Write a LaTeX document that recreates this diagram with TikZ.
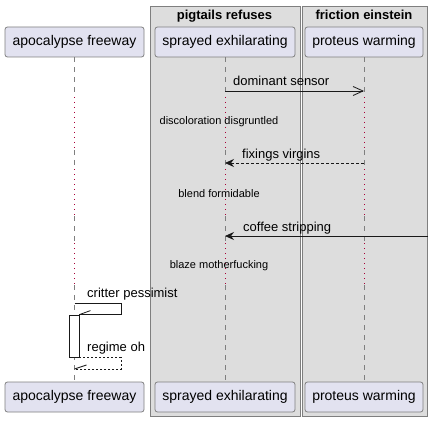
\documentclass[tikz,border=0pt]{standalone}
\usepackage{fontspec}
\setmainfont{Liberation Sans}
\usetikzlibrary{arrows.meta, positioning}
\definecolor{partfill}{HTML}{E2E2F0}
\definecolor{partline}{HTML}{7F7F7F}
\definecolor{grpfill}{HTML}{DDDDDD}
\definecolor{delaycol}{HTML}{A80036}
\tikzset{
  part/.style={rectangle, draw=partline, fill=partfill, rounded corners=2.5pt, minimum height=30pt, inner sep=0pt, line width=0.8pt, font=\fontsize{14}{16}\selectfont},
  grp/.style={draw=partline, fill=grpfill, line width=0.9pt},
  grptitle/.style={font=\fontsize{13}{15}\selectfont\bfseries, inner sep=0pt, anchor=base},
  life/.style={draw=partline, dash pattern=on 5pt off 5pt, line width=0.8pt},
  delayline/.style={draw=delaycol, dash pattern=on 1pt off 4pt, line width=1pt},
  msg/.style={draw=black!90, line width=0.8pt},
  msglabel/.style={font=\fontsize{13}{15}\selectfont, inner sep=0pt, anchor=base west},
  delaylabel/.style={font=\fontsize{11}{13}\selectfont, inner sep=0pt, anchor=base},
  activation/.style={rectangle, draw=black!90, fill=white, line width=0.8pt, minimum width=10pt, minimum height=42pt, inner sep=0pt},
  filledtip/.style={-{Stealth[length=9pt, width=8pt, inset=3pt]}},
  opentip/.style={-{Straight Barb[length=10pt, width=9pt]}},
}

\begin{document}
\begin{tikzpicture}[x=1pt, y=-1pt]
  \useasboundingbox (0,0) rectangle (433,422);
  % groups
  \draw[grp] (150,6) rectangle (300.5,416);
  \draw[grp] (302.5,6) rectangle (427,416);
  \node[grptitle] (pigtails) at (224.5,19.5) {pigtails refuses};
  \node[grptitle] (friction) at (364,19.5) {friction einstein};
  % participants
  \node[part, minimum width=139pt] (apo-top) at (74.5,42) {apocalypse freeway};
  \node[part, minimum width=140pt] (spr-top) at (225,42) {sprayed exhilarating};
  \node[part, minimum width=118pt] (pro-top) at (364,42) {proteus warming};
  \node[part, minimum width=139pt] (apo-bot) at (74.5,397) {apocalypse freeway};
  \node[part, minimum width=140pt] (spr-bot) at (225,397) {sprayed exhilarating};
  \node[part, minimum width=118pt] (pro-bot) at (364,397) {proteus warming};
  % delays
  \coordinate (dly1s) at (0,97);
  \coordinate (dly1e) at (0,150);
  \coordinate (dly2s) at (0,169);
  \coordinate (dly2e) at (0,216);
  \coordinate (dly3s) at (0,243);
  \coordinate (dly3e) at (0,285);
  \foreach \p in {apo,spr,pro}{
    \draw[life] (\p-top.south) -- (\p-top.south |- dly1s);
    \draw[delayline] (\p-top.south |- dly1s) -- (\p-top.south |- dly1e);
    \draw[life] (\p-top.south |- dly1e) -- (\p-top.south |- dly2s);
    \draw[delayline] (\p-top.south |- dly2s) -- (\p-top.south |- dly2e);
    \draw[life] (\p-top.south |- dly2e) -- (\p-top.south |- dly3s);
    \draw[delayline] (\p-top.south |- dly3s) -- (\p-top.south |- dly3e);
    \draw[life] (\p-top.south |- dly3e) -- (\p-bot.north);
  }
  \node[delaylabel] (disc) at (219,124.5) {discoloration disgruntled};
  \node[delaylabel] (blend) at (219,197) {blend formidable};
  \node[delaylabel] (blaze) at (219,268.5) {blaze motherfucking};
  % messages
  \coordinate (m1) at (0,91);
  \coordinate (m2) at (0,163);
  \coordinate (outside) at (428,236);
  \draw[msg, opentip] (spr-top.south |- m1) -- (pro-top.south |- m1);
  \node[msglabel] (dominant) at (233,86) {dominant sensor};
  \draw[msg, filledtip, dash pattern=on 3pt off 2pt] (pro-top.south |- m2) -- (spr-top.south |- m2);
  \node[msglabel] (fixings) at (242,158) {fixings virgins};
  \draw[msg, filledtip] (outside) -- (spr-top.south |- outside);
  \node[msglabel] (coffee) at (243,231) {coffee stripping};
  % self call
  \node[activation] (act) at (74,336) {};
  \coordinate (self) at (121,303);
  \coordinate (back) at (121,369);
  \draw[msg] (apo-top.south |- self) -- (self) |- (act.north east);
  \draw[msg] (act.north east) -- ++(11,-4);
  \node[msglabel] (critter) at (87,297) {critter pessimist};
  \draw[msg, dash pattern=on 2pt off 2pt] (act.south east) -- (act.south east -| back) -- (back) -- (apo-top.south |- back);
  \draw[msg] (apo-top.south |- back) -- ++(12,-4);
  \node[msglabel] (regime) at (87,351) {regime oh};
\end{tikzpicture}
\end{document}
